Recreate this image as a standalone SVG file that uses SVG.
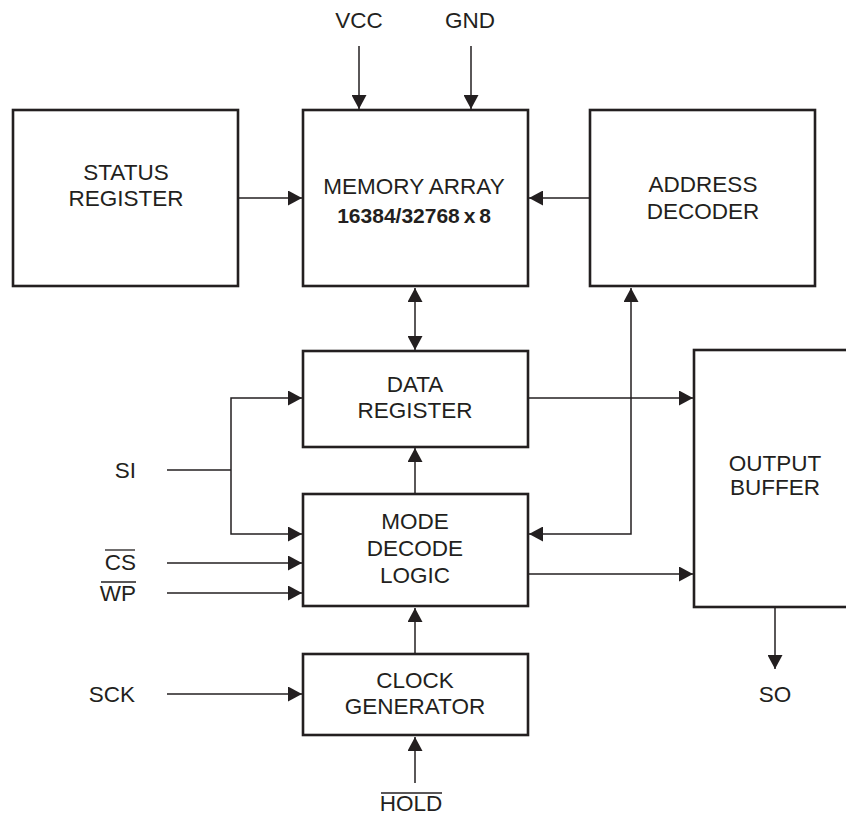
<svg xmlns="http://www.w3.org/2000/svg" width="846" height="816" viewBox="0 0 846 816">
<style>
.box{fill:#fff;stroke:#231f20;stroke-width:2.6}
.c{fill:none;stroke:#231f20;stroke-width:1.5}
.t{font-family:"Liberation Sans",Arial,sans-serif;font-size:22.5px;fill:#231f20;text-anchor:middle}
.l{font-family:"Liberation Sans",Arial,sans-serif;font-size:22.5px;fill:#231f20;text-anchor:end}
.b{font-weight:bold;font-size:21px;word-spacing:-2px}
.ob{stroke:#231f20;stroke-width:1.3}
</style>
<defs>
<marker id="ah" markerUnits="userSpaceOnUse" markerWidth="15" markerHeight="15" refX="14" refY="7.5" orient="auto">
<path d="M0,0 L14,7.5 L0,15 z" fill="#231f20"/>
</marker>
<marker id="as" markerUnits="userSpaceOnUse" markerWidth="15" markerHeight="15" refX="0" refY="7.5" orient="auto">
<path d="M14,0 L0,7.5 L14,15 z" fill="#231f20"/>
</marker>
</defs>
<rect width="846" height="816" fill="#fff"/>
<g id="connectors">
<line class="c" x1="359" y1="46" x2="359" y2="109" marker-end="url(#ah)"/>
<line class="c" x1="471" y1="46" x2="471" y2="109" marker-end="url(#ah)"/>
<line class="c" x1="238" y1="198" x2="302" y2="198" marker-end="url(#ah)"/>
<line class="c" x1="590" y1="198" x2="529" y2="198" marker-end="url(#ah)"/>
<line class="c" x1="415" y1="288" x2="415" y2="350" marker-start="url(#as)" marker-end="url(#ah)"/>
<line class="c" x1="528" y1="398" x2="693" y2="398" marker-end="url(#ah)"/>
<polyline class="c" points="167,470 231,470"/>
<polyline class="c" points="302,398 231,398 231,534 302,534" marker-start="url(#as)" marker-end="url(#ah)"/>
<line class="c" x1="167" y1="563" x2="302" y2="563" marker-end="url(#ah)"/>
<line class="c" x1="167" y1="593" x2="302" y2="593" marker-end="url(#ah)"/>
<line class="c" x1="415" y1="494" x2="415" y2="448" marker-end="url(#ah)"/>
<polyline class="c" points="529,534 631,534 631,288" marker-start="url(#as)" marker-end="url(#ah)"/>
<line class="c" x1="528" y1="574" x2="693" y2="574" marker-end="url(#ah)"/>
<line class="c" x1="415" y1="654" x2="415" y2="608" marker-end="url(#ah)"/>
<line class="c" x1="167" y1="694" x2="302" y2="694" marker-end="url(#ah)"/>
<line class="c" x1="415" y1="783" x2="415" y2="737" marker-end="url(#ah)"/>
<line class="c" x1="775" y1="607" x2="775" y2="669" marker-end="url(#ah)"/>
</g>
<g id="status">
<rect class="box" x="13" y="110" width="225" height="176"/>
<text class="t" x="126" y="180">STATUS</text>
<text class="t" x="126" y="206">REGISTER</text>
</g>
<g id="memory">
<rect class="box" x="303" y="110" width="225" height="176"/>
<text class="t" x="414" y="194">MEMORY ARRAY</text>
<text class="t b" x="414" y="223">16384/32768 x 8</text>
</g>
<g id="address">
<rect class="box" x="590" y="110" width="225" height="176"/>
<text class="t" x="703" y="192">ADDRESS</text>
<text class="t" x="703" y="219">DECODER</text>
</g>
<g id="data">
<rect class="box" x="303" y="351" width="225" height="96"/>
<text class="t" x="415" y="392">DATA</text>
<text class="t" x="415" y="418">REGISTER</text>
</g>
<g id="mode">
<rect class="box" x="303" y="494" width="225" height="112"/>
<text class="t" x="415" y="529">MODE</text>
<text class="t" x="415" y="556">DECODE</text>
<text class="t" x="415" y="583">LOGIC</text>
</g>
<g id="clock">
<rect class="box" x="303" y="654" width="225" height="81"/>
<text class="t" x="415" y="688">CLOCK</text>
<text class="t" x="415" y="714">GENERATOR</text>
</g>
<g id="output">
<rect class="box" x="694" y="350" width="170" height="257"/>
<text class="t" x="775" y="471">OUTPUT</text>
<text class="t" x="775" y="495">BUFFER</text>
</g>
<g id="labels">
<text class="t" x="359" y="28">VCC</text>
<text class="t" x="470" y="28">GND</text>
<text class="l" x="136" y="478">SI</text>
<text class="l" x="136" y="570">CS</text>
<line class="ob" x1="105" y1="550" x2="135" y2="550"/>
<text class="l" x="136" y="601">WP</text>
<line class="ob" x1="101" y1="582" x2="136" y2="582"/>
<text class="l" x="135" y="702">SCK</text>
<text class="t" x="411" y="811">HOLD</text>
<line class="ob" x1="381" y1="793" x2="442" y2="793"/>
<text class="t" x="775" y="702">SO</text>
</g>
</svg>
